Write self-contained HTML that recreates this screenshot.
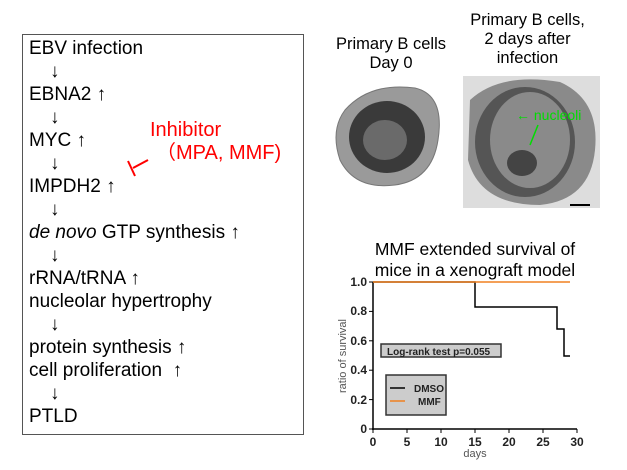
<!DOCTYPE html><html><head><meta charset="utf-8"><style>
body{margin:0;width:627px;height:470px;background:#fff;position:relative;overflow:hidden;font-family:"Liberation Sans","Noto Sans CJK JP",sans-serif}
.t{position:absolute;font-size:19px;color:#000;white-space:nowrap;line-height:23px}
.c{position:absolute;font-size:16.5px;text-align:center;line-height:19px;color:#000}
</style></head><body>
<div style="position:absolute;left:22px;top:34px;width:280px;height:399px;border:1px solid #555"></div>
<div class="t" style="left:29px;top:37px">EBV infection</div>
<div class="t" style="left:50px;top:60px">↓</div>
<div class="t" style="left:29px;top:83px">EBNA2 ↑</div>
<div class="t" style="left:50px;top:106px">↓</div>
<div class="t" style="left:29px;top:129px">MYC ↑</div>
<div class="t" style="left:50px;top:152px">↓</div>
<div class="t" style="left:29px;top:175px">IMPDH2 ↑</div>
<div class="t" style="left:50px;top:198px">↓</div>
<div class="t" style="left:29px;top:221px"><i>de novo</i> GTP synthesis ↑</div>
<div class="t" style="left:50px;top:244px">↓</div>
<div class="t" style="left:29px;top:267px">rRNA/tRNA ↑</div>
<div class="t" style="left:29px;top:290px">nucleolar hypertrophy</div>
<div class="t" style="left:50px;top:313px">↓</div>
<div class="t" style="left:29px;top:336px">protein synthesis ↑</div>
<div class="t" style="left:29px;top:359px">cell proliferation &nbsp;↑</div>
<div class="t" style="left:50px;top:382px">↓</div>
<div class="t" style="left:29px;top:405px">PTLD</div>
<div class="t" style="left:150px;top:119px;color:#f00;font-size:20px">Inhibitor</div>
<div class="t" style="left:156px;top:142px;color:#f00;font-size:20px">（MPA, MMF)</div>
<svg style="position:absolute;left:0;top:0" width="627" height="470">
<line x1="148" y1="160" x2="133" y2="168" stroke="#f00" stroke-width="2"/>
<line x1="128" y1="161" x2="135" y2="176" stroke="#f00" stroke-width="2"/>
<path d="M345,110 Q370,82 415,88 Q445,95 438,140 Q432,180 395,185 Q355,190 340,160 Q330,130 345,110Z" fill="#9a9a9a" stroke="#777"/>
<ellipse cx="387" cy="137" rx="38" ry="36" fill="#3a3a3a"/>
<ellipse cx="385" cy="140" rx="22" ry="20" fill="#6a6a6a"/>
<rect x="463" y="76" width="137" height="132" fill="#ddd"/>
<path d="M470,100 Q500,72 560,82 Q600,100 595,150 Q590,200 540,205 Q480,205 468,160Z" fill="#8a8a8a"/>
<ellipse cx="525" cy="142" rx="50" ry="55" fill="#555"/>
<ellipse cx="530" cy="140" rx="40" ry="48" fill="#8a8a8a"/>
<ellipse cx="522" cy="163" rx="15" ry="13" fill="#444"/>
<line x1="570" y1="205" x2="590" y2="205" stroke="#000" stroke-width="2"/>
<text x="516" y="120" fill="#0d0" font-size="14" font-family="Liberation Sans">← nucleoli</text>
<line x1="538" y1="125" x2="530" y2="145" stroke="#0d0" stroke-width="1.5"/>
<g font-family="Liberation Sans" font-size="12" font-weight="bold" fill="#222">
<line x1="373" y1="282" x2="373" y2="430" stroke="#000" stroke-width="1.5"/>
<line x1="372" y1="429" x2="577" y2="429" stroke="#000" stroke-width="1.5"/>
<g stroke="#000">
<line x1="369" y1="282" x2="373" y2="282"/><line x1="369" y1="311.4" x2="373" y2="311.4"/><line x1="369" y1="340.8" x2="373" y2="340.8"/><line x1="369" y1="370.2" x2="373" y2="370.2"/><line x1="369" y1="399.6" x2="373" y2="399.6"/><line x1="369" y1="429" x2="373" y2="429"/>
<line x1="373" y1="429" x2="373" y2="433"/><line x1="407" y1="429" x2="407" y2="433"/><line x1="441" y1="429" x2="441" y2="433"/><line x1="475" y1="429" x2="475" y2="433"/><line x1="509" y1="429" x2="509" y2="433"/><line x1="543" y1="429" x2="543" y2="433"/><line x1="577" y1="429" x2="577" y2="433"/>
</g>
<g text-anchor="end"><text x="367" y="286">1.0</text><text x="367" y="315">0.8</text><text x="367" y="345">0.6</text><text x="367" y="374">0.4</text><text x="367" y="404">0.2</text><text x="367" y="433">0</text></g>
<g text-anchor="middle"><text x="373" y="446">0</text><text x="407" y="446">5</text><text x="441" y="446">10</text><text x="475" y="446">15</text><text x="509" y="446">20</text><text x="543" y="446">25</text><text x="577" y="446">30</text></g>
<text x="475" y="457" text-anchor="middle" font-weight="normal" fill="#555" font-size="11">days</text>
<text transform="translate(346,356) rotate(-90)" text-anchor="middle" font-weight="normal" fill="#555" font-size="11">ratio of survival</text>
<polyline points="373,282 475,282 475,307 557,307 557,329 564,329 564,356 570,356" fill="none" stroke="#000" stroke-width="1.5"/>
<line x1="373" y1="282" x2="570" y2="282" stroke="#f08020" stroke-width="1.5"/>
<rect x="381" y="344" width="120" height="13" fill="#ccc" stroke="#333" stroke-width="1.5"/>
<text x="387" y="355" font-size="10">Log-rank test p=0.055</text>
<rect x="386" y="375" width="60" height="40" fill="#ccc" stroke="#333" stroke-width="1.5"/>
<line x1="390" y1="388" x2="405" y2="388" stroke="#000" stroke-width="1.5"/>
<line x1="390" y1="401" x2="405" y2="401" stroke="#f08020" stroke-width="1.5"/>
<text x="414" y="392" font-size="10">DMSO</text><text x="418" y="405" font-size="10">MMF</text>
</g>
</svg>
<div class="c" style="left:321px;top:35px;width:140px">Primary B cells<br>Day 0</div>
<div class="c" style="left:450px;top:11px;width:155px">Primary B cells,<br>2 days after<br>infection</div>
<div class="c" style="left:350px;top:239px;width:250px;font-size:17.5px;line-height:21px">MMF extended survival of<br>mice in a xenograft model</div>
</body></html>
